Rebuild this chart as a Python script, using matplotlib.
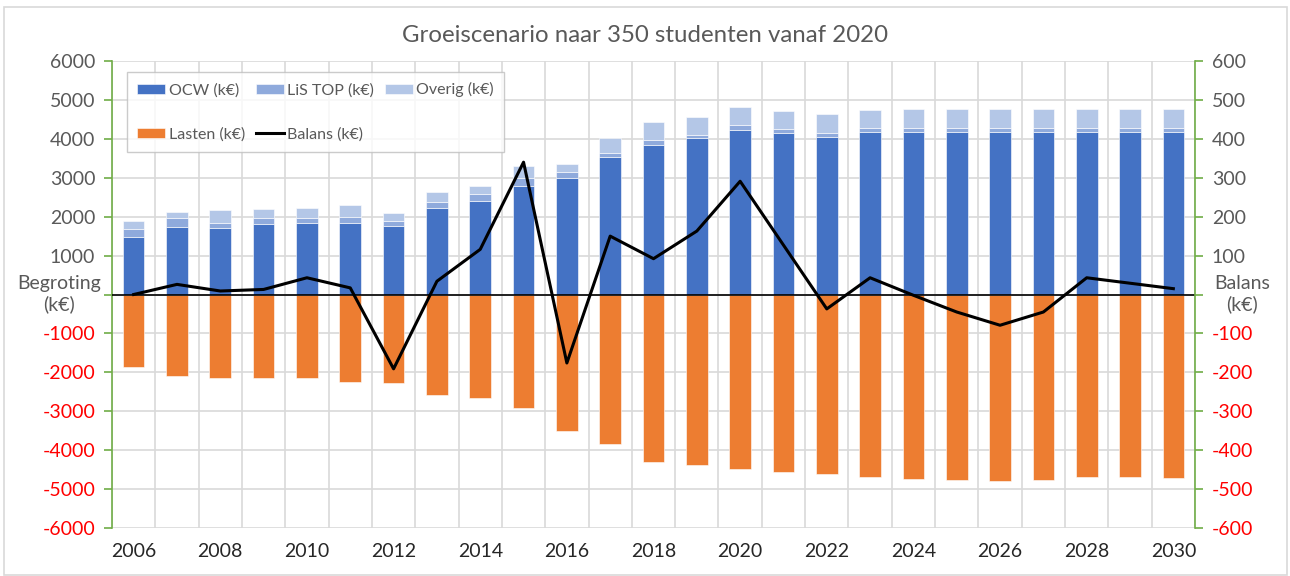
import numpy as np
import matplotlib
matplotlib.use('Agg')
import matplotlib.pyplot as plt
from matplotlib.patches import Rectangle

plt.rcParams['font.family'] = ['Lato', 'DejaVu Sans']

jaren = list(range(2006, 2031))

# inkomsten (k€)
ocw = [1470, 1730, 1700, 1810, 1825, 1850, 1755, 2230, 2410, 2800, 3000, 3530, 3840,
       4020, 4225, 4140, 4055, 4180, 4180, 4180, 4180, 4180, 4180, 4180, 4180]
lis_top = [215, 230, 150, 150, 140, 140, 130, 145, 185, 200, 145, 95, 140,
           85, 120, 100, 85, 110, 110, 110, 110, 110, 110, 110, 110]
overig = [215, 170, 330, 230, 250, 310, 215, 265, 200, 300, 220, 385, 450,
          455, 465, 470, 490, 455, 465, 465, 475, 475, 465, 465, 465]
# lasten (k€)
lasten = [-1870, -2085, -2145, -2145, -2145, -2245, -2262, -2571, -2648, -2913, -3513, -3830, -4300,
          -4370, -4481, -4558, -4619, -4678, -4730, -4764, -4800, -4764, -4678, -4695, -4713]
# balans (k€), rechter as
balans = [0, 26, 9, 13, 43, 17, -191, 34, 116, 340, -176, 150, 92,
          163, 291, 127, -37, 43, -2, -45, -79, -45, 43, 29, 15]

c_ocw = '#4472C4'
c_lis = '#8FAADC'
c_overig = '#B4C7E7'
c_lasten = '#ED7D31'
c_as = '#70AD47'
c_tekst = '#595959'

fig = plt.figure(figsize=(12.9, 5.76), dpi=100)
ax = fig.add_axes([112/1290, 1-528/576, (1195-112)/1290, (528-61)/576])
ax2 = ax.twinx()

x = np.arange(len(jaren))
b = 0.5
onder2 = np.array(ocw) + np.array(lis_top)
ax.bar(x, ocw, b, color=c_ocw, edgecolor='white', linewidth=0.4, zorder=3, label='OCW (k€)')
ax.bar(x, lis_top, b, bottom=ocw, color=c_lis, edgecolor='white', linewidth=0.4, zorder=3, label='LiS TOP (k€)')
ax.bar(x, overig, b, bottom=onder2, color=c_overig, edgecolor='white', linewidth=0.4, zorder=3, label='Overig (k€)')
ax.bar(x, lasten, b, color=c_lasten, edgecolor='white', linewidth=0.4, zorder=3, label='Lasten (k€)')
ax.axhline(0, color='black', lw=1.2, zorder=4)

ax2.plot(x, balans, color='black', lw=2.2, zorder=5, label='Balans (k€)')

ax.set_xlim(-0.5, len(jaren) - 0.5)
ax.set_ylim(-6000, 6000)
ax2.set_ylim(-600, 600)

# rasterlijnen
ax.set_yticks(np.arange(-6000, 6001, 1000))
ax2.set_yticks(np.arange(-600, 601, 100))
for v in np.arange(-6000, 6001, 1000):
    ax.axhline(v, color='#D9D9D9', lw=1.2, zorder=0)
for xi in np.arange(-0.5, len(jaren), 1):
    ax.axvline(xi, color='#D9D9D9', lw=1.2, zorder=0)

ax.set_xticks(x[::2])
ax.set_xticklabels([str(j) for j in jaren[::2]], fontsize=14, color='#262626')
ax.tick_params(axis='x', length=0, pad=11)

for s in ['top', 'bottom', 'right']:
    ax.spines[s].set_visible(False)
    ax2.spines[s].set_visible(False)
ax2.spines['left'].set_visible(False)
ax.spines['left'].set_color(c_as)
ax.spines['left'].set_linewidth(1.2)
ax2.spines['right'].set_visible(True)
ax2.spines['right'].set_color(c_as)
ax2.spines['right'].set_linewidth(1.2)

ax.tick_params(axis='y', colors=c_as, length=6, width=1.2, labelsize=14, pad=6)
ax2.tick_params(axis='y', colors=c_as, length=6, width=1.2, labelsize=14, pad=6)
ax.set_yticklabels([str(v) for v in np.arange(-6000, 6001, 1000)])
ax2.set_yticklabels([str(v) for v in np.arange(-600, 601, 100)])
for t, v in zip(ax.get_yticklabels(), np.arange(-6000, 6001, 1000)):
    t.set_color('#FF0000' if v < 0 else c_tekst)
for t, v in zip(ax2.get_yticklabels(), np.arange(-600, 601, 100)):
    t.set_color('#FF0000' if v < 0 else c_tekst)
# label 0 niet tonen (daar staat de astitel)
ax.get_yticklabels()[6].set_visible(False)
ax2.get_yticklabels()[6].set_visible(False)

fig.text(59/1290, 1-294/576, 'Begroting\n(k€)', ha='center', va='center',
         fontsize=14, color=c_tekst, linespacing=1.2)
fig.text(1242/1290, 1-294/576, 'Balans\n(k€)', ha='center', va='center',
         fontsize=14, color=c_tekst, linespacing=1.2)

fig.text(0.5, 1-35/576, 'Groeiscenario naar 350 studenten vanaf 2020', ha='center', va='center',
         fontsize=17.3, color=c_tekst)

# legenda
h, l = ax.get_legend_handles_labels()
h2, l2 = ax2.get_legend_handles_labels()
volgorde = [h[0], h[3], h[1], h2[0], h[2]]
namen = [l[0], l[3], l[1], l2[0], l[2]]
leg = ax2.legend(volgorde, namen, ncol=3, loc='upper left', bbox_to_anchor=(15/1083, 1-11/467),
                 borderaxespad=0, fontsize=11.5, frameon=True, fancybox=False, edgecolor='#BFBFBF',
                 handlelength=1.75, handleheight=0.56, handletextpad=0.2, columnspacing=0.7,
                 labelspacing=1.85, borderpad=0.65, labelcolor=c_tekst)
leg.get_frame().set_linewidth(1.0)
leg.set_zorder(10)

# kader rond grafiek
fig.patches.append(Rectangle((4/1290, 0.002), 1283/1290, 1-8/576, transform=fig.transFigure,
                             fill=False, edgecolor='#D9D9D9', lw=1.2))

fig.savefig('out.png', dpi=100)
